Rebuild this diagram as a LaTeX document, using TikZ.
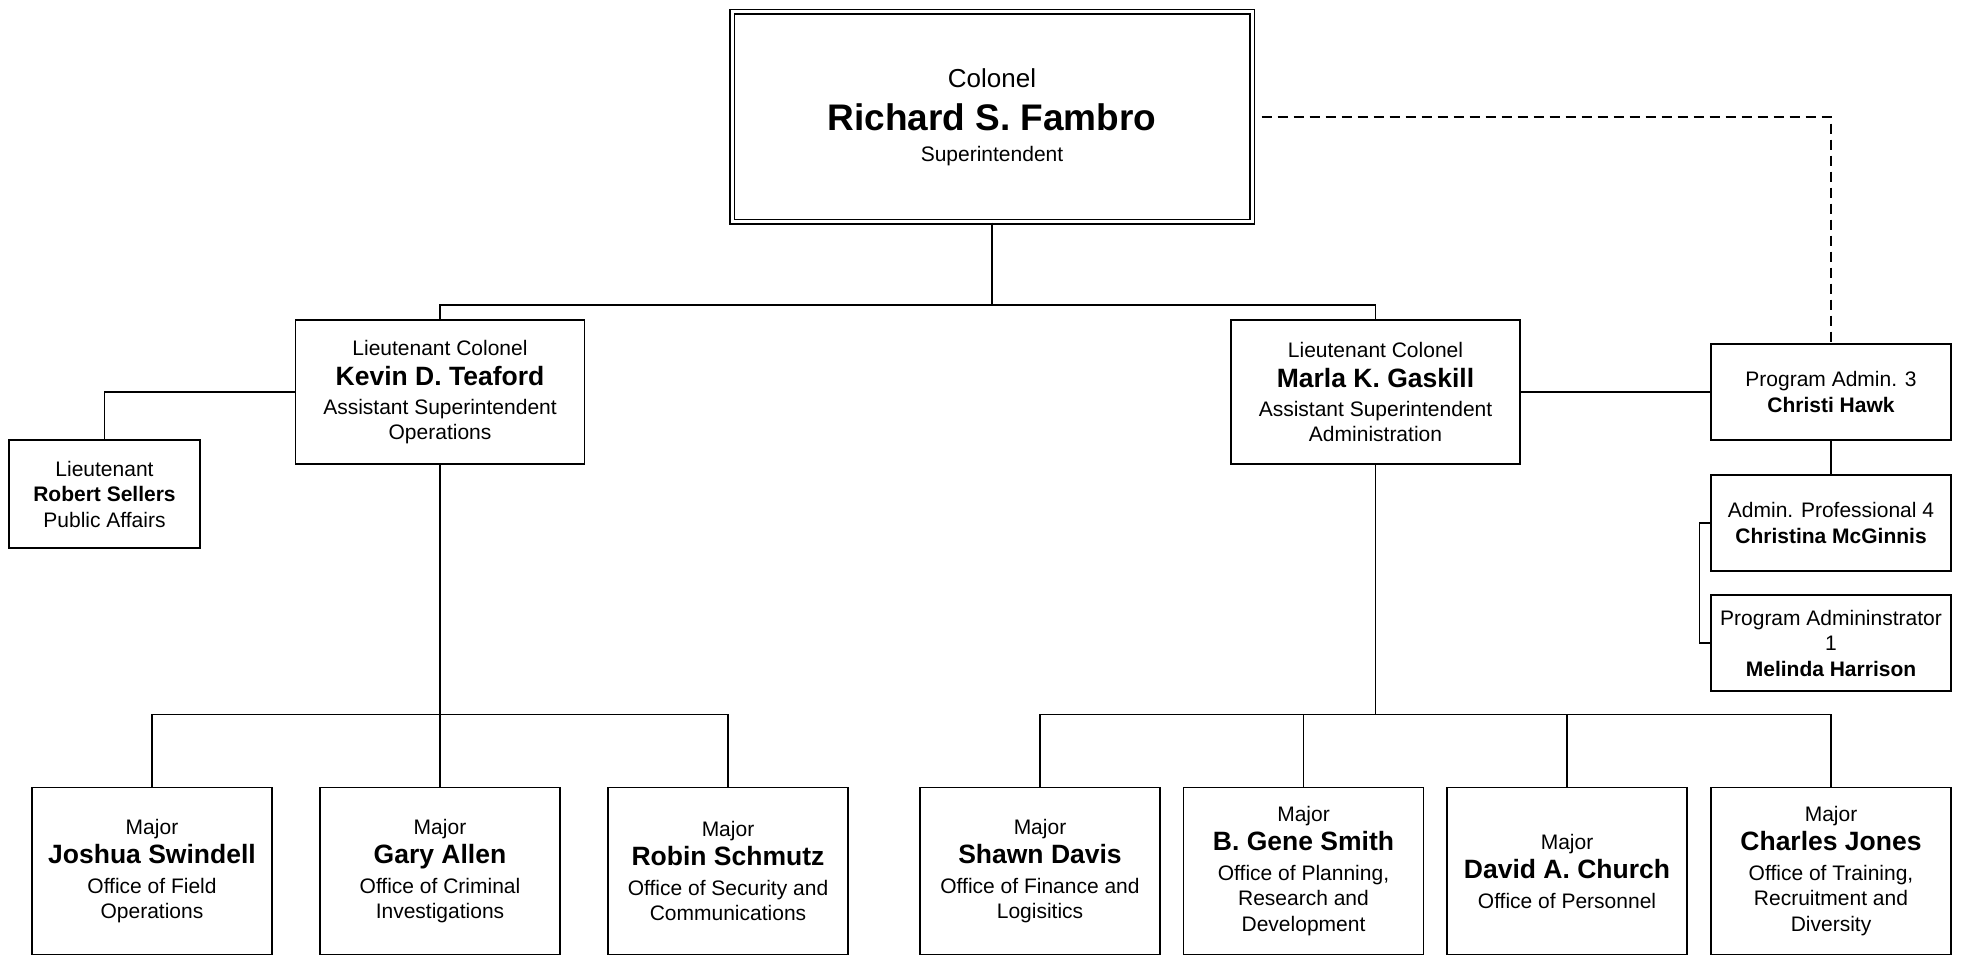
\documentclass[tikz,border=0pt]{standalone}
\usepackage{fontspec}
\setmainfont{Liberation Sans}
\newcommand\nmbig[1]{{\fontsize{26.5}{30}\selectfont\bfseries #1}}
\begin{document}
\begin{tikzpicture}[x=1pt,y=-1pt,
  box/.style={draw,line width=1.5pt,inner sep=0pt,align=center,
    font=\fontsize{21}{25.5}\selectfont},
  midbox/.style={box,minimum width=289pt,minimum height=144pt},
  smallbox/.style={box,minimum width=240pt,minimum height=96pt},
  majbox/.style={box,minimum width=240pt,minimum height=167pt},
  conn/.style={line width=1.5pt},
  dashconn/.style={line width=1.5pt,dash pattern=on 10pt off 6pt}]
\useasboundingbox (0,0) rectangle (1962,957);
\fill[white] (0,0) rectangle (1962,957);

% top
\node[box,double,double distance=3pt,line width=1.3pt,minimum width=520pt,minimum height=210pt] (top) at (992,117)
  {{\fontsize{26}{30}\selectfont Colonel}\\[15pt]
   {\fontsize{37}{40}\selectfont\bfseries Richard S. Fambro}\\[5pt]
   Superintendent};

% second level
\node[midbox] (teaford) at (440,392)
  {Lieutenant Colonel\\[4.5pt]\nmbig{Kevin D. Teaford}\\[3.5pt]Assistant Superintendent\\Operations};
\node[midbox] (gaskill) at (1375.5,392)
  {Lieutenant Colonel\\[4.5pt]\nmbig{Marla K. Gaskill}\\[3.5pt]Assistant Superintendent\\Administration};
\node[box,minimum width=191pt,minimum height=108pt] (sellers) at (104.5,494)
  {Lieutenant\\\textbf{Robert Sellers}\\Public Affairs};

% right column
\node[smallbox] (hawk) at (1831,392) {Program Admin. 3\\\textbf{Christi Hawk}};
\node[smallbox] (mcginnis) at (1831,523) {Admin. Professional 4\\\textbf{Christina McGinnis}};
\node[smallbox] (harrison) at (1831,643) {Program Admininstrator\\1\\\textbf{Melinda Harrison}};

% majors
\node[majbox] (swindell) at (152,871) {Major\\[4pt]\nmbig{Joshua Swindell}\\[4pt]Office of Field\\Operations};
\node[majbox] (allen) at (440,871) {Major\\[4pt]\nmbig{Gary Allen}\\[4pt]Office of Criminal\\Investigations};
\node[majbox] (schmutz) at (728,871) {Major\\[4pt]\nmbig{Robin Schmutz}\\[4pt]Office of Security and\\Communications};
\node[majbox] (davis) at (1040,871) {Major\\[4pt]\nmbig{Shawn Davis}\\[4pt]Office of Finance and\\Logisitics};
\node[majbox] (smith) at (1303.5,871) {Major\\[4pt]\nmbig{B. Gene Smith}\\[4pt]Office of Planning,\\Research and\\Development};
\node[majbox] (church) at (1567,871) {Major\\[4pt]\nmbig{David A. Church}\\[4pt]Office of Personnel};
\node[majbox] (jones) at (1831,871) {Major\\[4pt]\nmbig{Charles Jones}\\[4pt]Office of Training,\\Recruitment and\\Diversity};

% connectors
\coordinate (topbus) at (992,306);
\draw[conn] (top.south) -- (topbus);
\draw[conn] (teaford.north) -- ++(0,-14) -| (gaskill.north);
\draw[conn] (teaford.west) -| (sellers.north);
\draw[conn] (teaford.south) -- (allen.north);
\draw[conn] (swindell.north) -- ++(0,-72.5) -| (schmutz.north);
\coordinate (admbus) at (1375.5,715);
\draw[conn] (gaskill.south) -- (admbus);
\draw[conn] (davis.north) -- ++(0,-72.5) -| (jones.north);
\draw[conn] (smith.north) -- ++(0,-72.5);
\draw[conn] (church.north) -- ++(0,-72.5);
\draw[conn] (gaskill.east) -- (hawk.west);
\draw[dashconn] ([xshift=9pt]top.east) -| (hawk.north);
\draw[conn] (hawk.south) -- (mcginnis.north);
\draw[conn] (mcginnis.west) -- ++(-11,0) |- (harrison.west);
\end{tikzpicture}
\end{document}
